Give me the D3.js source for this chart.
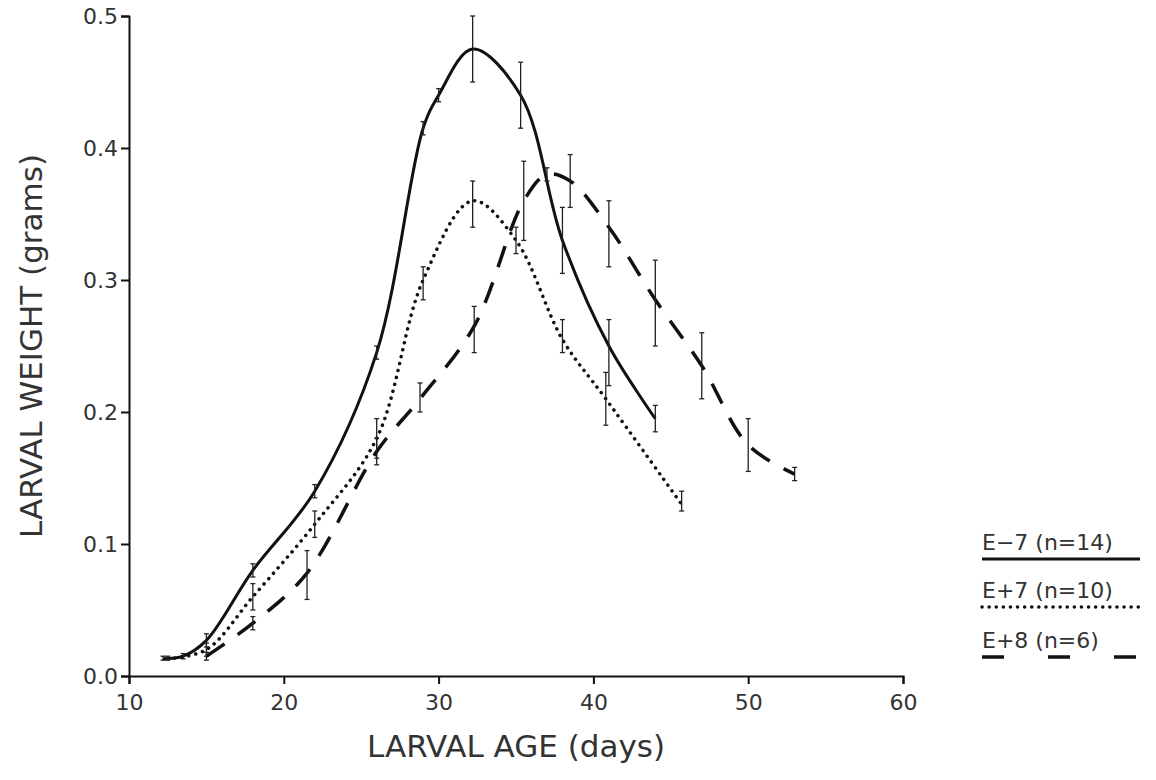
<!DOCTYPE html><html><head><meta charset="utf-8">
<script src="https://cdn.jsdelivr.net/npm/d3@7"></script>
<style>body{margin:0;background:#fff}text{font-family:"DejaVu Sans",sans-serif;fill:#333}</style></head><body>
<svg id="c" width="1156" height="780"></svg>
<script>
const xTicks=[10,20,30,40,50,60];
const yTicks=[0.0,0.1,0.2,0.3,0.4,0.5];
const seriesNames=["E\u22127 (n=14)","E+7 (n=10)","E+8 (n=6)"];
const e7x=[12.2,13.5,15,18,22,26,29,30,32.2,35.3,38,41,44];
const e7y=[0.013,0.015,0.027,0.08,0.14,0.245,0.415,0.44,0.475,0.44,0.33,0.25,0.195];
const e7lo=[0.012,0.013,0.022,0.075,0.135,0.24,0.41,0.435,0.45,0.415,0.305,0.22,0.185];
const e7hi=[0.015,0.017,0.032,0.085,0.145,0.25,0.42,0.445,0.5,0.465,0.355,0.27,0.205];
const p7x=[12.5,15,18,22,26,29,32.2,35,38,40.8,45.7];
const p7y=[0.013,0.02,0.06,0.115,0.18,0.3,0.36,0.33,0.255,0.21,0.13];
const p7lo=[0.012,0.015,0.05,0.105,0.165,0.285,0.34,0.32,0.245,0.19,0.125];
const p7hi=[0.015,0.025,0.07,0.125,0.195,0.31,0.375,0.34,0.27,0.23,0.14];
const e8x=[15,18,21.5,26,28.8,32.3,35.5,37,38.5,41,44,47,50,53];
const e8y=[0.015,0.04,0.078,0.17,0.21,0.265,0.36,0.38,0.375,0.34,0.285,0.235,0.175,0.153];
const e8lo=[0.012,0.035,0.058,0.16,0.2,0.245,0.33,0.375,0.355,0.31,0.25,0.21,0.155,0.148];
const e8hi=[0.018,0.045,0.095,0.18,0.222,0.28,0.39,0.385,0.395,0.36,0.315,0.26,0.195,0.158];

const svg=d3.select("#c");
const x=d3.scaleLinear().domain([10,60]).range([129,903]);
const y=d3.scaleLinear().domain([0,0.5]).range([676,16]);
const ax=svg.append("g").attr("transform","translate(0,676)").call(d3.axisBottom(x).tickValues(xTicks).tickSize(8).tickFormat(d3.format("d")));
ax.selectAll("text").attr("font-size",22).attr("dy","1.05em");
const ay=svg.append("g").attr("transform","translate(129,0)").call(d3.axisLeft(y).tickValues(yTicks).tickSize(8).tickFormat(d3.format(".1f")));
ay.selectAll("text").attr("font-size",22);
svg.selectAll(".domain,.tick line").attr("stroke","#111").attr("stroke-width",2);
svg.append("text").attr("x",x(35)).attr("y",757).attr("text-anchor","middle").attr("font-size",31).text("LARVAL AGE (days)");
svg.append("text").attr("transform","translate(42,"+y(0.25)+") rotate(-90)").attr("text-anchor","middle").attr("font-size",31).text("LARVAL WEIGHT (grams)");
const styles=[{w:3,d:null},{w:3.5,d:"0.1,7",cap:"round"},{w:3.5,d:"22,16"}];
const data=[[e7x,e7y,e7lo,e7hi],[p7x,p7y,p7lo,p7hi],[e8x,e8y,e8lo,e8hi]];
const line=d3.line().curve(d3.curveCatmullRom.alpha(0.5)).x(d=>x(d[0])).y(d=>y(d[1]));
data.forEach((s,i)=>{
  const pts=s[0].map((v,j)=>[v,s[1][j]]);
  const p=svg.append("path").attr("d",line(pts)).attr("fill","none").attr("stroke","#111").attr("stroke-width",styles[i].w);
  if(styles[i].d)p.attr("stroke-dasharray",styles[i].d);
  if(styles[i].cap)p.attr("stroke-linecap","round");
  s[0].forEach((v,j)=>{
    svg.append("line").attr("x1",x(v)).attr("x2",x(v)).attr("y1",y(s[2][j])).attr("y2",y(s[3][j])).attr("stroke","#222").attr("stroke-width",1.3);
    [s[2][j],s[3][j]].forEach(e=>svg.append("line").attr("x1",x(v)-2.5).attr("x2",x(v)+2.5).attr("y1",y(e)).attr("y2",y(e)).attr("stroke","#222").attr("stroke-width",1.3));
  });
});
const ly=[550,598,648];
seriesNames.forEach((n,i)=>{
  svg.append("text").attr("x",982).attr("y",ly[i]).attr("font-size",22).text(n);
  const l=svg.append("line").attr("x1",982).attr("x2",1140).attr("y1",ly[i]+9).attr("y2",ly[i]+9).attr("stroke","#111").attr("stroke-width",styles[i].w);
  if(i==1)l.attr("stroke-dasharray","0.1,7").attr("stroke-linecap","round");
  if(i==2)l.attr("stroke-dasharray","22,44");
});
</script></body></html>
